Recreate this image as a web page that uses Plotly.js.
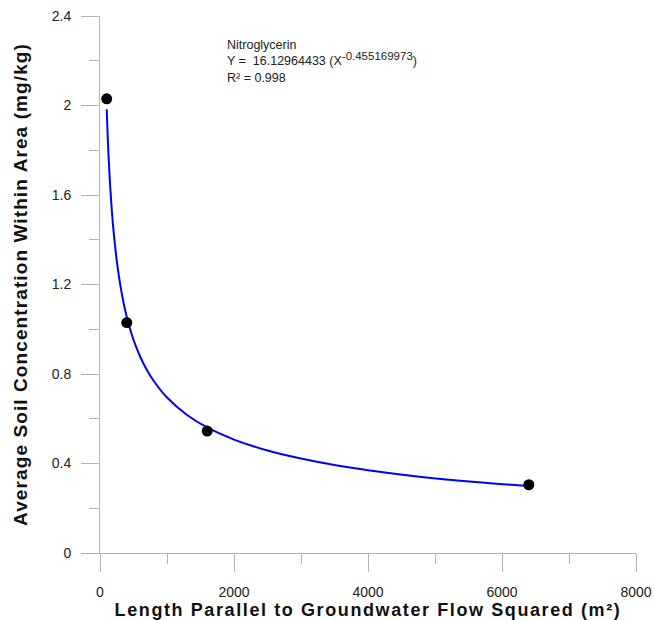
<!DOCTYPE html>
<html>
<head>
<meta charset="utf-8">
<script src="https://cdn.plot.ly/plotly-3.0.1.min.js"></script>
<style>
html,body{margin:0;padding:0;background:#fff;}
#chart{width:654px;height:620px;}
#chart .xtitle{letter-spacing:1.6px;}
#chart .ytitle{letter-spacing:1.1px;}
</style>
</head>
<body>
<div id="chart"></div>
<script>
// Measured data points
const pointX = [100, 400, 1600, 6400];
const pointY = [2.03, 1.03, 0.545, 0.305];

// Fitted curve
const curveX = [100, 130, 170, 200, 250, 300, 350, 400, 500, 600, 700, 800, 1000, 1300, 1600, 2000, 2500, 3000, 3500, 4000, 4800, 5600, 6400];
const curveY = [1.983, 1.760, 1.557, 1.446, 1.307, 1.203, 1.121, 1.055, 0.953, 0.877, 0.818, 0.770, 0.695, 0.617, 0.561, 0.507, 0.458, 0.422, 0.393, 0.370, 0.340, 0.317, 0.299];

const xTickVals = [0, 2000, 4000, 6000, 8000];
const xTickText = ['0', '2000', '4000', '6000', '8000'];
const yTickVals = [0, 0.4, 0.8, 1.2, 1.6, 2.0, 2.4];
const yTickText = ['0', '0.4', '0.8', '1.2', '1.6', '2', '2.4'];

const fitLabel = 'Nitroglycerin<br>Y =  16.12964433 (X<sup><span style="font-size:11.5px">-0.455169973</span></sup>)<br>R² = 0.998';

const axisColor = '#b4b4b4';
const font = 'Liberation Sans, Arial, sans-serif';

const traces = [
  {x: curveX, y: curveY, type: 'scatter', mode: 'lines',
   line: {color: '#0000ff', width: 2, shape: 'spline', smoothing: 1.0}, hoverinfo: 'skip'},
  {x: pointX, y: pointY, type: 'scatter', mode: 'markers',
   marker: {color: '#000', size: 11}}
];

const layout = {
  width: 654, height: 620,
  margin: {l: 100, r: 18, t: 16, b: 67, pad: 0},
  paper_bgcolor: '#fff', plot_bgcolor: '#fff',
  showlegend: false,
  font: {family: font, color: '#222', size: 13},
  xaxis: {
    range: [0, 8000], tickvals: xTickVals, ticktext: xTickText,
    showgrid: false, zeroline: false, showline: true, linecolor: axisColor, linewidth: 1,
    ticks: 'outside', ticklen: 18, tickcolor: axisColor, tickwidth: 1,
    ticklabelstandoff: 8,
    minor: {dtick: 1000, tick0: 0, ticks: 'outside', ticklen: 10, tickcolor: axisColor, showgrid: false},
    tickfont: {size: 14, color: '#222'},
    title: {text: 'Length Parallel to Groundwater Flow Squared (m²)', font: {size: 18, family: font, color: '#111', weight: 'bold'}, standoff: 0}
  },
  yaxis: {
    range: [0, 2.4], tickvals: yTickVals, ticktext: yTickText,
    showgrid: false, zeroline: false, showline: true, linecolor: axisColor, linewidth: 1,
    ticks: 'outside', ticklen: 18, tickcolor: axisColor, tickwidth: 1,
    ticklabelstandoff: 7,
    minor: {dtick: 0.2, tick0: 0, ticks: 'outside', ticklen: 10, tickcolor: axisColor, showgrid: false},
    tickfont: {size: 14, color: '#222'},
    title: {text: 'Average Soil Concentration Within Area (mg/kg)', font: {size: 19, family: font, color: '#111', weight: 'bold'}, standoff: 19}
  },
  annotations: [{
    text: fitLabel, xref: 'paper', yref: 'paper', x: 0.2325, y: 0.963,
    xanchor: 'left', yanchor: 'top', align: 'left', showarrow: false,
    font: {size: 12.5, family: font, color: '#222'}
  }]
};

Plotly.newPlot('chart', traces, layout, {displayModeBar: false, staticPlot: true});
</script>
</body>
</html>
